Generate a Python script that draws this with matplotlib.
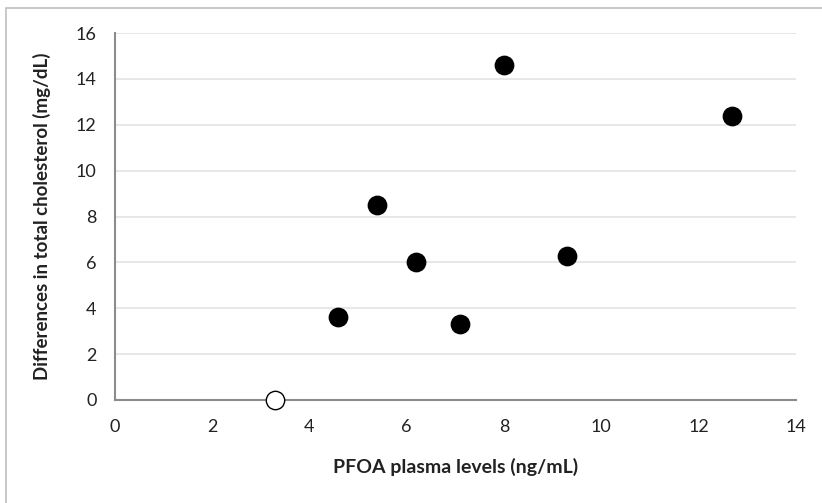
import matplotlib.pyplot as plt
from matplotlib.patches import Rectangle

# Data
pfoa_filled = [4.6, 5.4, 6.2, 7.1, 8.0, 9.3, 12.7]
chol_filled = [3.6, 8.5, 6.0, 3.3, 14.6, 6.3, 12.4]
pfoa_open = [3.3]
chol_open = [0.0]

x_ticks = [0, 2, 4, 6, 8, 10, 12, 14]
y_ticks = [0, 2, 4, 6, 8, 10, 12, 14, 16]

plt.rcParams['font.family'] = ['Lato', 'DejaVu Sans']

fig = plt.figure(figsize=(8.22, 5.03), dpi=100)
ax = fig.add_axes([0.1395, 0.2048, 0.8285, 0.7295])

# outer chart border
fig.patches.append(Rectangle((0.007, -0.05), 1.2, 1.034, transform=fig.transFigure,
                             fill=False, edgecolor='#bfbfbf', linewidth=1.2))

ax.scatter(pfoa_filled, chol_filled, s=175, color='black', zorder=3, clip_on=False)
ax.scatter(pfoa_open, chol_open, s=175, facecolor='white', edgecolor='black',
           linewidth=1.0, zorder=3, clip_on=False)

ax.set_xlim(0, 14)
ax.set_ylim(0, 16)
ax.set_xticks(x_ticks)
ax.set_yticks(y_ticks)
ax.tick_params(length=0, labelsize=13, colors='#222222', pad=13)
ax.tick_params(axis='x', pad=14)

ax.grid(axis='y', color='#e3e3e3', linewidth=1.2)
ax.set_axisbelow(True)
for s in ['top', 'right']:
    ax.spines[s].set_visible(False)
for s in ['left', 'bottom']:
    ax.spines[s].set_color('#8c8c8c')
    ax.spines[s].set_linewidth(1.5)

ax.set_xlabel('PFOA plasma levels (ng/mL)', fontsize=14, fontweight='bold',
              color='#222222', labelpad=16)
ax.set_ylabel('Differences in total cholesterol (mg/dL)', fontsize=13.5,
              fontweight='bold', color='#222222', labelpad=18)

fig.savefig('out.png', dpi=100)
